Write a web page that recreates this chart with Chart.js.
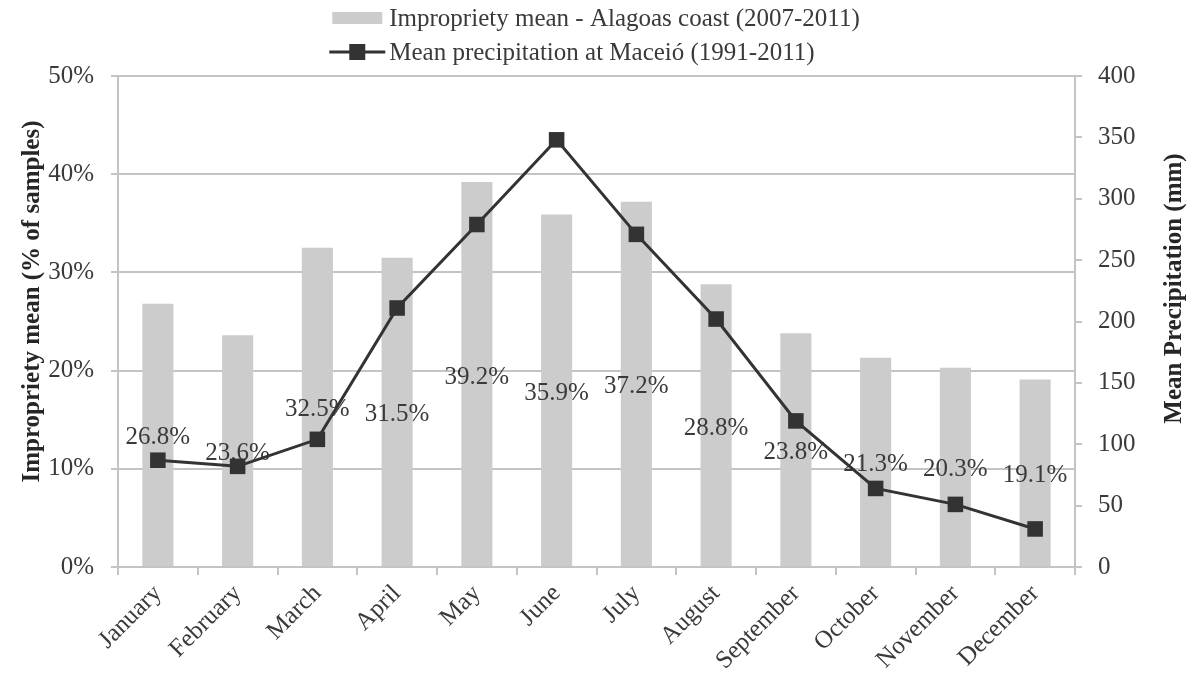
<!DOCTYPE html>
<html>
<head>
<meta charset="utf-8">
<script src="https://cdn.jsdelivr.net/npm/chart.js@4.4.1/dist/chart.umd.min.js"></script>
<style>
html,body{margin:0;padding:0;background:#fff;}
#wrap{width:1193px;height:684px;position:relative;}
</style>
</head>
<body>
<div id="wrap"><canvas id="c"></canvas></div>
<script>
// ---- data ----
const months = ['January','February','March','April','May','June','July','August','September','October','November','December'];
const improprietyMean = [26.8, 23.6, 32.5, 31.5, 39.2, 35.9, 37.2, 28.8, 23.8, 21.3, 20.3, 19.1];
const precipitationMm = [87, 82, 104, 211, 279, 348, 271, 202, 119, 64, 51, 31];
const leftTickRange = [0, 50, 10];     // min, max, step (%)
const rightTickRange = [0, 400, 50];   // min, max, step (mm)
const seriesNames = ['Impropriety mean - Alagoas coast (2007-2011)', 'Mean precipitation at Maceió (1991-2011)'];
const axisTitles = ['Impropriety mean (% of samples)', 'Mean Precipitation (mm)'];

// ---- styles ----
const SERIF = '"Liberation Serif", "Times New Roman", serif';
const TEXT = '#3a3a3a';
const GRID = '#c4c4c4';
const BAR = '#cccccc';
const LINE = '#333333';

const barLabels = {
  id: 'barLabels',
  afterDatasetDraw(chart, args) {
    if (args.meta.type !== 'bar') return;
    const ctx = chart.ctx;
    ctx.save();
    ctx.font = '25px ' + SERIF;
    ctx.fillStyle = TEXT;
    ctx.textAlign = 'center';
    ctx.textBaseline = 'middle';
    args.meta.data.forEach((el, i) => {
      const v = chart.data.datasets[args.index].data[i];
      ctx.fillText(v.toFixed(1) + '%', el.x, (el.y + el.base) / 2 + 3);
    });
    ctx.restore();
  }
};

const customLegend = {
  id: 'customLegend',
  afterDraw(chart) {
    const ctx = chart.ctx;
    ctx.save();
    ctx.font = '25px ' + SERIF;
    const w = Math.max(...seriesNames.map(s => ctx.measureText(s).width));
    const blockW = 56 + 4 + w;
    const x0 = (chart.width - blockW) / 2 - 2;
    // row 1: bar swatch
    ctx.fillStyle = BAR;
    ctx.fillRect(x0 + 3, 12, 50, 12);
    ctx.fillStyle = TEXT;
    ctx.textAlign = 'left';
    ctx.textBaseline = 'middle';
    ctx.fillText(seriesNames[0], x0 + 60, 19);
    // row 2: line + marker
    ctx.strokeStyle = LINE;
    ctx.lineWidth = 3;
    ctx.beginPath();
    ctx.moveTo(x0, 52);
    ctx.lineTo(x0 + 56, 52);
    ctx.stroke();
    ctx.fillStyle = LINE;
    ctx.fillRect(x0 + 28 - 8, 52 - 8, 16, 16);
    ctx.fillStyle = TEXT;
    ctx.fillText(seriesNames[1], x0 + 60, 53);
    ctx.restore();
  }
};

const sideTitles = {
  id: 'sideTitles',
  afterDraw(chart) {
    const ctx = chart.ctx;
    const a = chart.chartArea;
    const cy = (a.top + a.bottom) / 2;
    ctx.save();
    ctx.font = 'bold 25px ' + SERIF;
    ctx.fillStyle = '#262626';
    ctx.textAlign = 'center';
    ctx.textBaseline = 'middle';
    ctx.save();
    ctx.translate(33, cy - 20);
    ctx.rotate(-Math.PI / 2);
    ctx.fillText(axisTitles[0], 0, 0);
    ctx.restore();
    ctx.save();
    ctx.translate(1175, cy - 33);
    ctx.rotate(-Math.PI / 2);
    ctx.fillText(axisTitles[1], 0, 0);
    ctx.restore();
    ctx.restore();
  }
};

new Chart(document.getElementById('c'), {
  data: {
    labels: months,
    datasets: [
      {
        type: 'line',
        label: seriesNames[1],
        data: precipitationMm,
        yAxisID: 'y1',
        borderColor: LINE,
        borderWidth: 3,
        pointStyle: 'rect',
        pointRadius: 11,
        pointBackgroundColor: LINE,
        pointBorderColor: LINE,
        pointBorderWidth: 0,
        tension: 0,
        order: 0
      },
      {
        type: 'bar',
        label: seriesNames[0],
        data: improprietyMean,
        yAxisID: 'y',
        backgroundColor: BAR,
        barPercentage: 0.39,
        categoryPercentage: 1,
        order: 1
      }
    ]
  },
  options: {
    responsive: true,
    maintainAspectRatio: false,
    animation: false,
    layout: { padding: { top: 76, left: 0, right: 0, bottom: 0 } },
    plugins: { legend: { display: false }, tooltip: { enabled: false } },
    scales: {
      x: {
        offset: true,
        grid: { drawOnChartArea: false, color: GRID, lineWidth: 2, tickLength: 8, offset: true },
        border: { color: GRID, width: 2 },
        ticks: { maxRotation: 45, minRotation: 45, padding: 4, color: TEXT, font: { family: SERIF, size: 25 } },
        afterFit(s) { s.height = 117; }
      },
      y: {
        position: 'left',
        min: leftTickRange[0], max: leftTickRange[1],
        grid: { color: GRID, lineWidth: 2, tickLength: 7 },
        border: { color: GRID, width: 2 },
        ticks: { stepSize: leftTickRange[2], padding: 17, color: TEXT, font: { family: SERIF, size: 25 }, callback: v => v + '%' },
        afterFit(s) { s.width = 118; }
      },
      y1: {
        position: 'right',
        min: rightTickRange[0], max: rightTickRange[1],
        grid: { drawOnChartArea: false, color: GRID, lineWidth: 2, tickLength: 7 },
        border: { color: GRID, width: 2 },
        ticks: { stepSize: rightTickRange[2], padding: 16, color: TEXT, font: { family: SERIF, size: 25 } },
        afterFit(s) { s.width = 118; }
      }
    }
  },
  plugins: [barLabels, customLegend, sideTitles]
});
</script>
</body>
</html>
